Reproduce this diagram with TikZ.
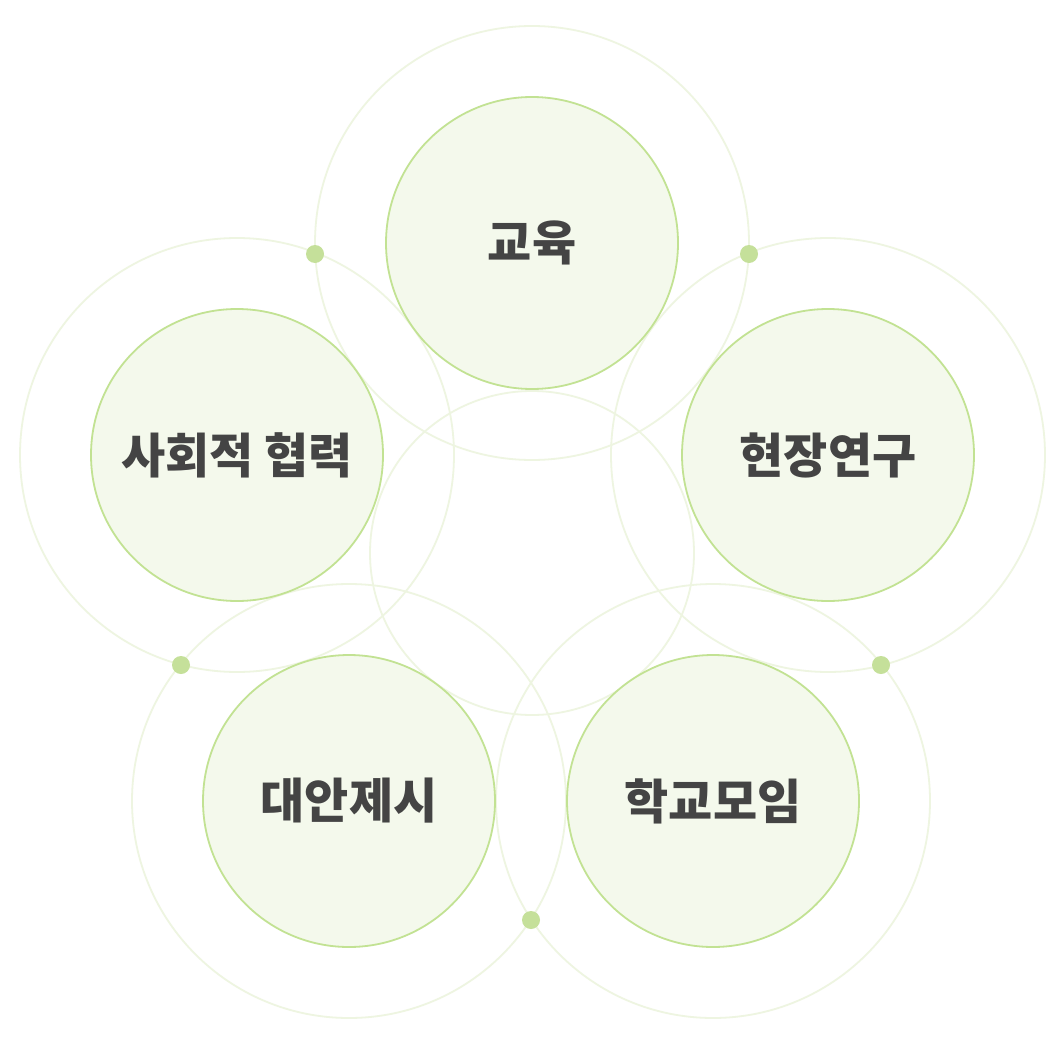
\documentclass[tikz,border=0pt]{standalone}
\usepackage{fontspec}
\newfontfamily\kr{Noto Sans CJK KR}
\definecolor{fillg}{HTML}{F4F9EC}
\definecolor{edgeg}{HTML}{C2E293}
\definecolor{ringg}{HTML}{EEF5E1}
\definecolor{dotg}{HTML}{C5E09A}
\definecolor{txt}{HTML}{444444}
\begin{document}
\begin{tikzpicture}[x=1pt,y=-1pt,
  ring/.style={draw=ringg,line width=1.8pt},
  topic/.style={circle,draw=edgeg,fill=fillg,line width=1.8pt,minimum size=292pt,inner sep=0pt,
     font=\kr\bfseries\fontsize{48}{48}\selectfont,text=txt},
  dotnode/.style={circle,fill=dotg,minimum size=18pt,inner sep=0pt}]
\useasboundingbox (0,0) rectangle (1064,1043);
\fill[white] (0,0) rectangle (1064,1043);
% outer rings
\draw[ring] (532,243) circle (217);
\draw[ring] (237,455) circle (217);
\draw[ring] (828,455) circle (217);
\draw[ring] (349,801) circle (217);
\draw[ring] (713,801) circle (217);
\draw[ring] (532,553) circle (162);
% topics
\node[topic] (edu) at (532,243) {교육};
\node[topic] (soc) at (237,455) {사회적 협력};
\node[topic] (field) at (828,455) {현장연구};
\node[topic] (alt) at (349,801) {대안제시};
\node[topic] (school) at (713,801) {학교모임};
% dots
\node[dotnode] (d1) at (315,254) {};
\node[dotnode] (d2) at (749,254) {};
\node[dotnode] (d3) at (181,665) {};
\node[dotnode] (d4) at (881,665) {};
\node[dotnode] (d5) at (531,920) {};
\end{tikzpicture}
\end{document}
